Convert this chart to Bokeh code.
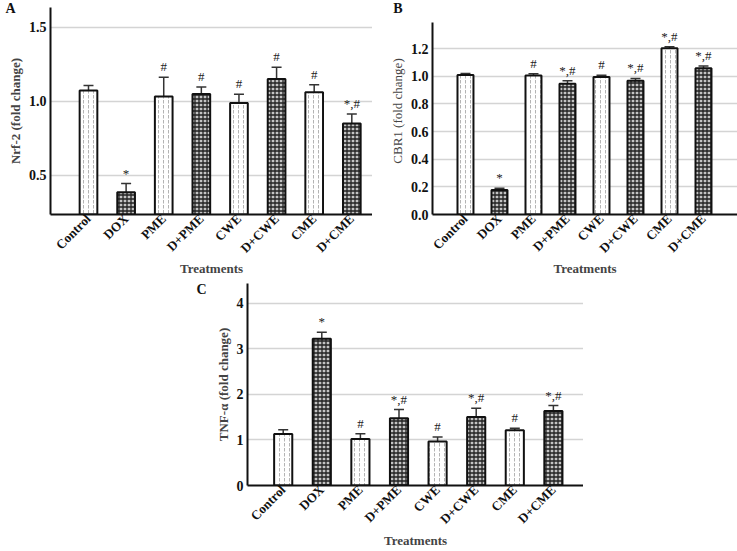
from bokeh.plotting import figure
from bokeh.models import (ColumnDataSource, Whisker, TeeHead, FixedTicker, Spacer,
                          LinearAxis, Range1d)
from bokeh.layouts import column, row
from bokeh.core.properties import value
from bokeh.embed import file_html
from bokeh.resources import INLINE
import math

categories = ["Control", "DOX", "PME", "D+PME", "CWE", "D+CWE", "CME", "D+CME"]

nrf2 = [1.074, 0.387, 1.034, 1.05, 0.989, 1.151, 1.063, 0.851]
nrf2_err = [0.034, 0.058, 0.13, 0.048, 0.06, 0.08, 0.05, 0.064]
nrf2_sig = ["", "*", "#", "#", "#", "#", "#", "*,#"]

cbr1 = [1.009, 0.177, 1.005, 0.946, 0.995, 0.967, 1.203, 1.057]
cbr1_err = [0.01, 0.013, 0.012, 0.022, 0.012, 0.017, 0.011, 0.017]
cbr1_sig = ["", "*", "#", "*,#", "#", "*,#", "*,#", "*,#"]

tnf = [1.129, 3.221, 1.021, 1.479, 0.964, 1.507, 1.214, 1.636]
tnf_err = [0.096, 0.146, 0.114, 0.19, 0.1, 0.19, 0.043, 0.12]
tnf_sig = ["", "*", "#", "*,#", "#", "*,#", "#", "*,#"]

y_ticks_a = [0.5, 1.0, 1.5]
y_ticks_b = [0.0, 0.2, 0.4, 0.6, 0.8, 1.0, 1.2]
y_ticks_c = [0, 1, 2, 3, 4]

FONT = "Liberation Serif"


def panel(vals, errs, sig, ylabel, yticks, yfmt, xr, yr, ybounds, width, height,
          borders, letter, letter_shift, letter_pos, xlabel_standoff,
          ylabel_style="bold"):
    xs = list(range(len(categories)))
    p = figure(width=width, height=height, x_range=xr, y_range=yr,
               output_backend="svg", toolbar_location=None,
               min_border_left=borders[0], min_border_right=borders[1],
               min_border_top=borders[2], min_border_bottom=borders[3])
    p.outline_line_color = None
    p.background_fill_color = "white"
    p.border_fill_color = "white"
    p.xgrid.grid_line_color = None
    p.ygrid.grid_line_color = "#d4d4d4"
    p.ygrid.grid_line_width = 1.5
    p.ygrid.ticker = FixedTicker(ticks=yticks)

    light = [i for i in xs if i % 2 == 0]
    dark = [i for i in xs if i % 2 == 1]
    src_l = ColumnDataSource(dict(x=light, top=[vals[i] for i in light]))
    src_d = ColumnDataSource(dict(x=dark, top=[vals[i] for i in dark]))
    p.vbar(x="x", top="top", bottom=ybounds[0], width=0.47, source=src_l,
           fill_color="white", line_color="#111111", line_width=2,
           hatch_pattern="vertical_dash", hatch_color="#b4b4b4",
           hatch_scale=5, hatch_weight=1)
    p.vbar(x="x", top="top", bottom=ybounds[0], width=0.47, source=src_d,
           fill_color="#c4c4c4", line_color="#111111", line_width=2,
           hatch_pattern="cross", hatch_color="#222222",
           hatch_scale=4, hatch_weight=1.3)

    src = ColumnDataSource(dict(
        x=xs,
        upper=[v + e for v, e in zip(vals, errs)],
        lower=[v - e for v, e in zip(vals, errs)],
        sig=sig))
    w = Whisker(source=src, base="x", upper="upper", lower="lower",
                dimension="height", line_color="#333333", line_width=1.5,
                upper_head=TeeHead(size=10, line_color="#333333", line_width=1.5),
                lower_head=TeeHead(size=10, line_color="#333333", line_width=1.5))
    p.add_layout(w)
    p.text(x="x", y="upper", text="sig", source=src,
           text_font=value(FONT), text_font_size="13px",
           text_align="center", text_baseline="bottom", y_offset=-3,
           text_color="#222222")

    # x axis
    p.xaxis.ticker = FixedTicker(ticks=xs)
    p.xaxis.major_label_overrides = {i: c for i, c in enumerate(categories)}
    p.xaxis.major_label_orientation = math.pi / 4
    p.xaxis.major_label_text_font = FONT
    p.xaxis.major_label_text_font_style = "bold"
    p.xaxis.major_label_text_font_size = "13px"
    p.xaxis.major_label_text_color = "#111111"
    p.xaxis.major_tick_line_color = None
    p.xaxis.minor_tick_line_color = None
    p.xaxis.major_tick_out = 0
    p.xaxis.major_label_standoff = 2
    p.xaxis.axis_label = "Treatments"
    p.xaxis.axis_label_text_font = FONT
    p.xaxis.axis_label_text_font_style = "bold"
    p.xaxis.axis_label_text_font_size = "13px"
    p.xaxis.axis_label_standoff = xlabel_standoff
    p.xaxis.axis_line_width = 2
    p.xaxis.axis_line_color = "#111111"

    # y axis
    p.yaxis.ticker = FixedTicker(ticks=yticks)
    p.yaxis.bounds = ybounds
    p.yaxis.major_label_overrides = {t: yfmt.format(t) for t in yticks}
    p.yaxis.major_label_text_font = FONT
    p.yaxis.major_label_text_font_style = "bold"
    p.yaxis.major_label_text_font_size = "14px"
    p.yaxis.major_label_text_color = "#111111"
    p.yaxis.major_tick_line_color = None
    p.yaxis.minor_tick_line_color = None
    p.yaxis.major_tick_out = 0
    p.yaxis.major_label_standoff = 4
    p.yaxis.axis_label = ylabel
    p.yaxis.axis_label_text_font = FONT
    p.yaxis.axis_label_text_font_style = ylabel_style
    p.yaxis.axis_label_text_font_size = "13px"
    p.yaxis.axis_label_standoff = 3
    p.yaxis.axis_line_width = 2
    p.yaxis.axis_line_color = "#111111"

    # panel letter, drawn as the single label of an extra (invisible) left axis
    p.extra_y_ranges = {"letter": Range1d(0, 1)}
    la = LinearAxis(y_range_name="letter", ticker=FixedTicker(ticks=[letter_pos]),
                    major_label_overrides={letter_pos: letter},
                    axis_line_color=None, major_tick_line_color=None,
                    minor_tick_line_color=None, major_tick_out=0,
                    major_label_standoff=letter_shift,
                    major_label_text_font=FONT, major_label_text_font_style="bold",
                    major_label_text_font_size="14px",
                    major_label_text_color="#111111")
    p.add_layout(la, "left")
    return p


pA = panel(nrf2, nrf2_err, nrf2_sig, "Nrf-2 (fold change)", y_ticks_a, "{:.1f}",
           (-1.01, 7.55), (0.236, 1.635), (0.236, 1.635), 372, 278, (50, 0, 7, 64),
           "A", -11, 0.998, -3)
pB = panel(cbr1, cbr1_err, cbr1_sig, "CBR1 (fold change)", y_ticks_b, "{:.1f}",
           (-0.97, 8.0), (0.0, 1.497), (0.0, 1.386), 365, 278, (60, 0, 7, 64),
           "B", -16, 0.999, -3, ylabel_style="normal")
pC = panel(tnf, tnf_err, tnf_sig, "TNF-α (fold change)", y_ticks_c, "{:.0f}",
           (-0.925, 7.78), (0.0, 4.437), (0.0, 4.437), 392, 272, (56, 0, 5, 64),
           "C", 6, 0.97, -2)

layout = column(row(pA, pB), row(Spacer(width=191, height=272), pC))
open("out.html", "w").write(file_html(layout, INLINE))
